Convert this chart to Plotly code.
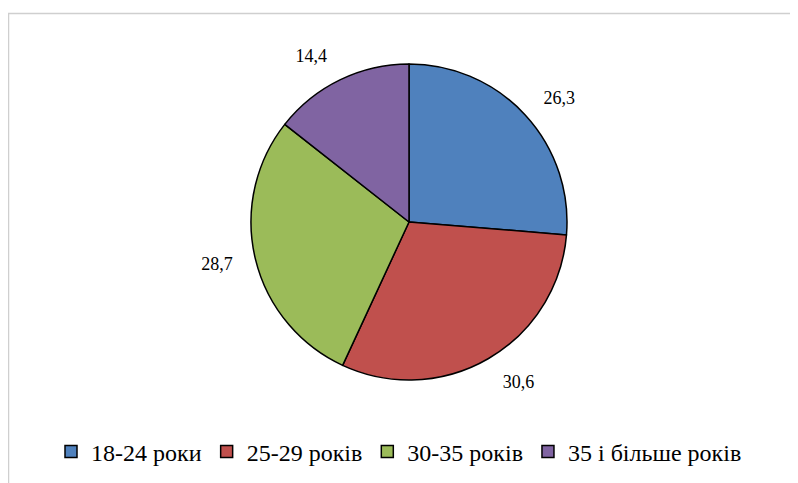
import plotly.graph_objects as go

categories = ["18-24 роки", "25-29 років", "30-35 років", "35 і більше років"]
values = [26.3, 30.6, 28.7, 14.4]
colors = ["#4F81BD", "#C0504D", "#9BBB59", "#8064A2"]

# the page body has an 8px margin, so the figure is 8px smaller than the window
W, H = 790, 475
ml, mr, mt, mb = 12, 0, 34, 81
pw = W - ml - mr
ph = H - mt - mb
R_PIE = 158
R_LBL = 176

def ydom(r):
    f = (2 * r) / ph
    return [0.5 - f / 2, 0.5 + f / 2]

serif = "Liberation Serif"

fig = go.Figure()
fig.add_trace(go.Pie(
    labels=categories, values=values, sort=False, direction="clockwise", rotation=0,
    domain=dict(x=[0, 1], y=ydom(R_PIE)),
    marker=dict(colors=colors, line=dict(color="#000000", width=1.5)),
    textinfo="none", hoverinfo="label+value", automargin=False, showlegend=True,
))
# transparent twin pie, only used to place the value labels a little further out
fig.add_trace(go.Pie(
    labels=categories, values=values, sort=False, direction="clockwise", rotation=0,
    domain=dict(x=[0, 1], y=ydom(R_LBL)),
    marker=dict(colors=["rgba(0,0,0,0)"] * 4, line=dict(width=0)),
    textposition="outside", texttemplate="%{value:.1f}",
    textfont=dict(family=serif, size=18, color="#000000"),
    hoverinfo="skip", automargin=False, showlegend=False,
))

fig.add_shape(
    type="rect", xref="paper", yref="paper",
    x0=(0.5 - ml) / pw, x1=1.1,
    y0=-0.6, y1=(H - mb - 5.5) / ph,
    line=dict(color="#CFCFCF", width=1.5), fillcolor="rgba(0,0,0,0)", layer="below",
)

fig.update_layout(
    template="none",
    width=W, height=H,
    margin=dict(l=ml, r=mr, t=mt, b=mb, autoexpand=False),
    paper_bgcolor="white", plot_bgcolor="white",
    separators=", ",
    font=dict(family=serif, color="#000000"),
    legend=dict(
        orientation="h", x=(43 - ml) / pw, xanchor="left",
        y=-50 / ph, yanchor="middle",
        font=dict(family=serif, size=24, color="#000000"),
        itemwidth=30, tracegroupgap=0, traceorder="normal",
    ),
)

fig.write_html("out.html")
